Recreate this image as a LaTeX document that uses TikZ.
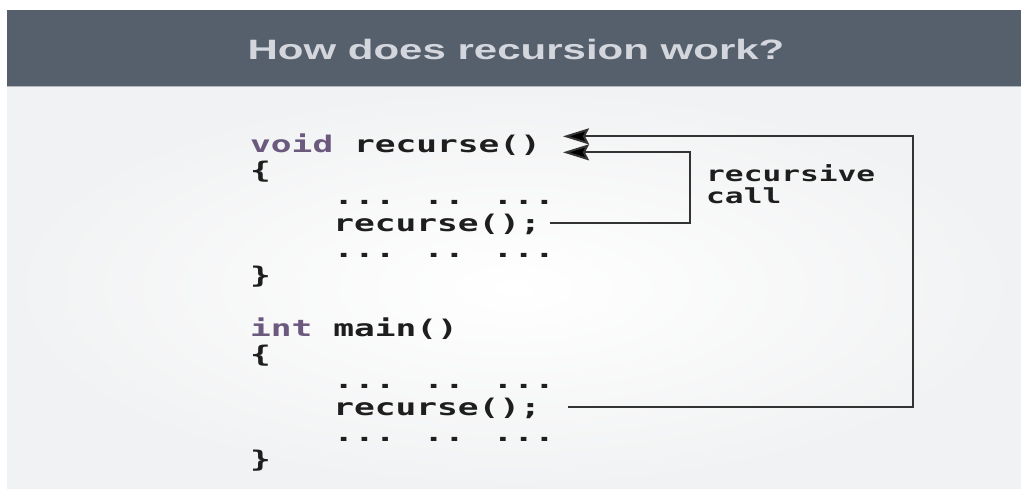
\documentclass[tikz,border=0pt]{standalone}
\usepackage{fontspec}
\usepackage{tikz}
\usetikzlibrary{matrix}
\usetikzlibrary{arrows.meta}
\newfontfamily\titlefont[FakeStretch=1.5]{Liberation Sans}
\newfontfamily\codefont[FakeStretch=1.5]{DejaVu Sans Mono}
\definecolor{headbg}{HTML}{56606C}
\definecolor{headfg}{HTML}{D3D6DD}
\definecolor{panelgray}{HTML}{F1F2F3}
\definecolor{kwcol}{HTML}{6B5A7E}
\definecolor{codefg}{HTML}{1E1E1E}
\definecolor{linecol}{HTML}{333333}
\newcommand\kw[1]{\textcolor{kwcol}{#1}}
\newcommand\ind{\hphantom{xxxx}}

\begin{document}
\begin{tikzpicture}[x=1pt,y=-1pt,
    callline/.style={draw=linecol, line width=2pt,
      -{Stealth[length=26pt,width=16pt,inset=4pt,fill=black]}}]
    \useasboundingbox (0,0) rectangle (1021,489);
    % header and panel
    \fill[headbg] (7,10) rectangle (1021,86);
    \shade[inner color=white, outer color=panelgray] (7,87) rectangle (1021,489);
    \draw[color=headbg!45, line width=1.5pt] (7,86.5) -- (1021,86.5);
    \node[anchor=base, text=headfg, font=\titlefont\bfseries\fontsize{28}{30}\selectfont]
      (title) at (516,60) {How does recursion work?};

     \matrix (code) [%
       matrix of nodes, anchor=north west, inner sep=0pt, row sep=0pt,
       nodes={anchor=west, inner sep=0pt, outer sep=0pt, text=codefg,
         text height=21pt, text depth=5.3pt,
         font=\codefont\bfseries\fontsize{23}{26}\selectfont}
     ] at (250,131)
      {%
		\kw{void} recurse() \\
		\{ \\
		\ind... .. ... \\
		\ind recurse(); \\
		\ind... .. ... \\
		\} \\[26.3pt]
		\kw{int} main() \\
		\{ \\
		\ind... .. ... \\
		\ind recurse(); \\
		\ind... .. ... \\
		\} \\
      };

    % arrow tips next to the definition
    \coordinate (tipouter) at ([xshift=22pt,yshift=8pt]code-1-1.east);
    \coordinate (tipinner) at ([xshift=22pt,yshift=-8pt]code-1-1.east);

    % do the call lines
		\draw[callline] ([xshift=9pt]code-4-1.east) -- ++(140,0) |- (tipinner);
		\draw[callline] ([xshift=27pt]code-10-1.east) -- ++(345,0) |- (tipouter);

    \node[anchor=base west, align=left, inner sep=0pt, text=codefg,
      font=\codefont\bfseries\fontsize{20.8}{22}\selectfont]
      (lbl) at (706,204) {recursive\\call};
\end{tikzpicture}
\end{document}
